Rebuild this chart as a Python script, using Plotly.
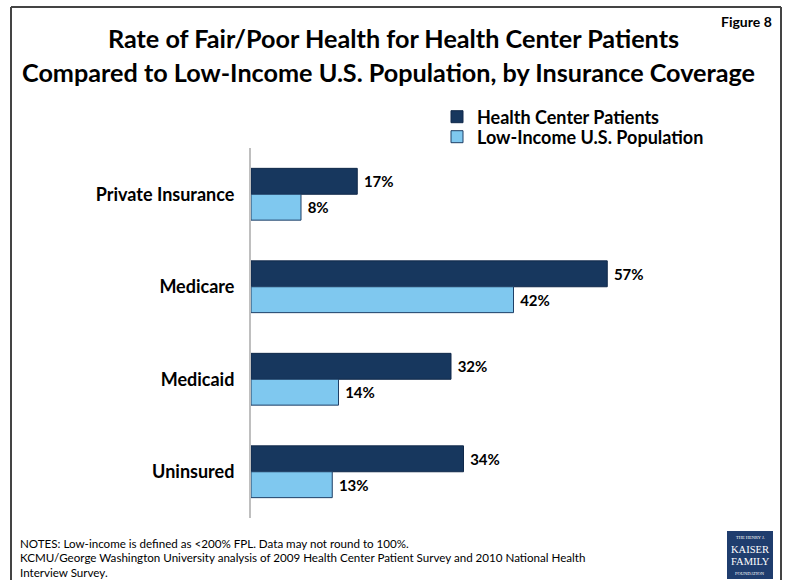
import plotly.graph_objects as go

categories = ["Private Insurance", "Medicare", "Medicaid", "Uninsured"]
health_center = [17, 57, 32, 34]
low_income = [8, 42, 14, 13]
series_names = ["Health Center Patients", "Low-Income U.S. Population"]

title_lines = ["Rate of Fair/Poor Health for Health Center Patients",
               "Compared to Low-Income U.S. Population, by Insurance Coverage"]
notes_lines = ["NOTES: Low-income is defined as <200% FPL. Data may not round to 100%.",
               "KCMU/George Washington University analysis of 2009 Health Center Patient Survey and 2010 National Health",
               "Interview Survey."]

DARK = "#17375E"
LIGHT = "#7FC8EF"
FONT = "Lato"

W, H = 785, 580
L, R, T, B = 251, 34, 148, 62
pw, ph = W - L - R, H - T - B

def px(x):
    return (x - L) / pw

def py(y):
    return (H - B - y) / ph

fig = go.Figure()
fig.add_trace(go.Bar(
    y=categories, x=health_center, name=series_names[0], orientation="h",
    marker=dict(color=DARK, line=dict(color="#10294a", width=1)),
    text=[f"{v}%" for v in health_center], texttemplate=" %{text}",
    textposition="outside", cliponaxis=False, legend="legend",
    textfont=dict(family=FONT, size=15, color="black", weight="bold"),
))
fig.add_trace(go.Bar(
    y=categories, x=low_income, name=series_names[1], orientation="h",
    marker=dict(color=LIGHT, line=dict(color="#1f3f66", width=1)),
    text=[f"{v}%" for v in low_income], texttemplate=" %{text}",
    textposition="outside", cliponaxis=False, legend="legend2",
    textfont=dict(family=FONT, size=15, color="black", weight="bold"),
))

annotations = []
annotations.append(dict(xref="paper", yref="paper", x=px(393), y=py(38),
                        text="<b>" + title_lines[0] + "</b>", showarrow=False,
                        font=dict(family=FONT, size=25.2, color="black"),
                        xanchor="center", yanchor="middle"))
annotations.append(dict(xref="paper", yref="paper", x=px(388), y=py(72),
                        text="<b>" + title_lines[1] + "</b>", showarrow=False,
                        font=dict(family=FONT, size=25.2, color="black"),
                        xanchor="center", yanchor="middle"))
annotations.append(dict(xref="paper", yref="paper", x=px(774), y=py(22),
                        text="<b>Figure 8</b>", showarrow=False,
                        font=dict(family=FONT, size=14, color="black"),
                        xanchor="right", yanchor="middle"))
for i, line in enumerate(notes_lines):
    annotations.append(dict(xref="paper", yref="paper", x=px(18), y=py(543 + i * 14.5),
                            text=line, showarrow=False,
                            font=dict(family=FONT, size=11.6, color="black"),
                            xanchor="left", yanchor="middle"))
# logo text
logo_lines = [("THE HENRY J.", 4.5, 537), ("KAISER", 10.5, 549), ("FAMILY", 10.5, 561), ("FOUNDATION", 4.5, 573)]
for t, s, yy in logo_lines:
    annotations.append(dict(xref="paper", yref="paper", x=px(750), y=py(yy),
                            text=t, showarrow=False,
                            font=dict(family="Liberation Serif", size=s, color="white"),
                            xanchor="center", yanchor="middle"))

BORDER = dict(color="#444444", width=2)
shapes = [
    dict(type="line", xref="paper", yref="paper", x0=px(11), x1=px(781), y0=py(7), y1=py(7), line=BORDER),
    dict(type="line", xref="paper", yref="paper", x0=px(11), x1=px(11), y0=py(7), y1=py(590), line=BORDER),
    dict(type="line", xref="paper", yref="paper", x0=px(781), x1=px(781), y0=py(7), y1=py(590), line=BORDER),
    dict(type="rect", xref="paper", yref="paper", x0=px(727), x1=px(773), y0=py(531), y1=py(579),
         line=dict(width=0), fillcolor="#1F3D6E"),
]

leg_common = dict(xanchor="left", yanchor="middle",
                  font=dict(family=FONT, size=18, color="black", weight="bold"),
                  bgcolor="rgba(0,0,0,0)", itemwidth=30)

fig.update_layout(
    width=W, height=H,
    margin=dict(l=L, r=R, t=T, b=B, autoexpand=False),
    paper_bgcolor="white", plot_bgcolor="white",
    barmode="group", bargap=0.44, bargroupgap=0,
    showlegend=True,
    legend=dict(x=px(437), y=py(117), **leg_common),
    legend2=dict(x=px(437), y=py(137), **leg_common),
    xaxis=dict(range=[0, 80], visible=False, showgrid=False, zeroline=False),
    yaxis=dict(autorange="reversed", showgrid=False, zeroline=False,
               showline=True, linecolor="#BFBFBF", linewidth=2,
               ticks="", ticklabelstandoff=11,
               tickfont=dict(family=FONT, size=18, color="black", weight="bold")),
    annotations=annotations, shapes=shapes,
    font=dict(family=FONT),
)

fig.write_html("out.html", config={"displayModeBar": False},
               post_script="document.body.style.margin='0';")
